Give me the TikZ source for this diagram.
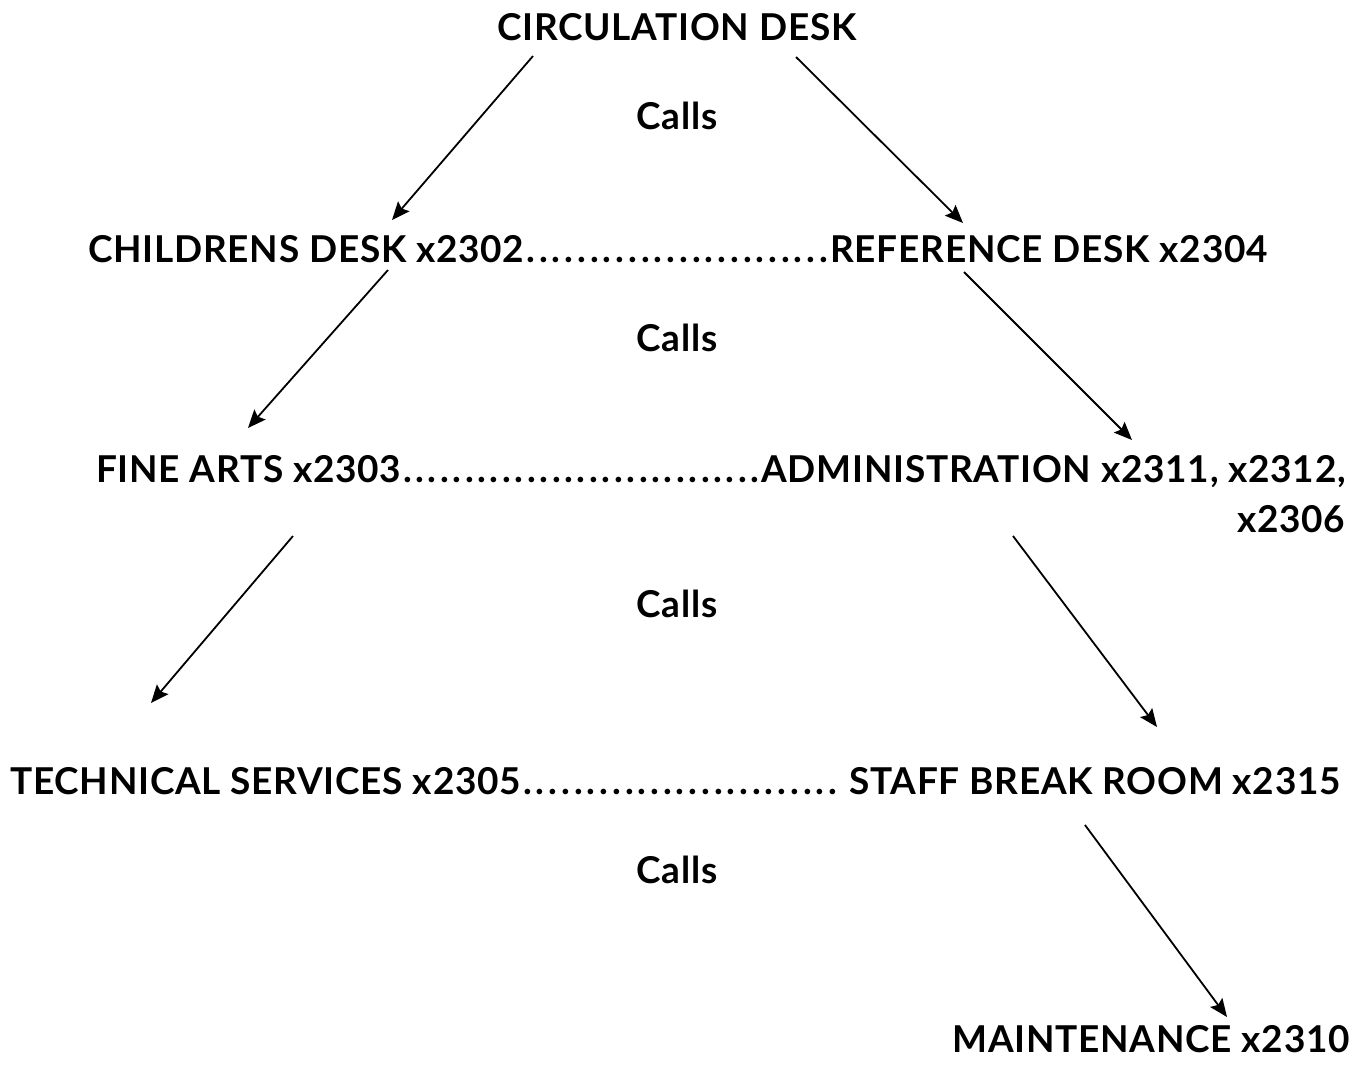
\documentclass[tikz,border=0pt]{standalone}
\usepackage{fontspec}
\setmainfont{Lato}[UprightFont=* Bold,LetterSpace=2]
\usepackage{tikz}
\usetikzlibrary{arrows.meta,calc,positioning}

\tikzset{
  lbl/.style={font=\fontsize{37}{50}\selectfont,inner sep=0pt,anchor=base west},
  callarrow/.style={-{Stealth[length=18pt,width=15pt,inset=3pt]},line width=1.8pt},
}
\newcommand{\dotrun}{\xleaders\hbox to 12.3pt{\hss.\hss}\hfill}

\begin{document}
\begin{tikzpicture}[x=1pt,y=-1pt]
  \useasboundingbox (0,0) rectangle (1364,1066);
  % rows of extensions
  \node[lbl] (circ) at (497,40) {CIRCULATION DESK};
  \node[lbl] (rowB) at (88,262) {\makebox[1179pt][s]{CHILDRENS DESK x2302\dotrun REFERENCE DESK x2304}};
  \node[lbl,anchor=north west,align=right] (rowC) at (96,455)
    {\makebox[1249pt][s]{FINE ARTS x2303\dotrun ADMINISTRATION x2311, x2312,}\\x2306};
  \node[lbl] (rowD) at (10,794) {\makebox[1330pt][s]{TECHNICAL SERVICES x2305\dotrun\ STAFF BREAK ROOM x2315}};
  \node[lbl,anchor=base east] (maint) at (1350,1052) {MAINTENANCE x2310};
  \foreach \y/\n in {129/a,351/b,617/c,883/d}
    \node[lbl,anchor=base] (calls\n) at (677,\y) {Calls};
  % arrow ends
  \coordinate (a1) at (533,56);  \coordinate (b1) at (392,220);
  \coordinate (a2) at (796,57);  \coordinate (b2) at (963,223);
  \coordinate (a3) at (388,270); \coordinate (b3) at (248,428);
  \coordinate (a4) at (964,272); \coordinate (b4) at (1132,440);
  \coordinate (a5) at (293,536); \coordinate (b5) at (151,703);
  \coordinate (a6) at (1013,536); \coordinate (b6) at (1157,727);
  \coordinate (a7) at (1085,825); \coordinate (b7) at (1227,1017);
  \foreach \k in {1,...,7}
    \draw[callarrow] (a\k) -- (b\k);
\end{tikzpicture}
\end{document}
